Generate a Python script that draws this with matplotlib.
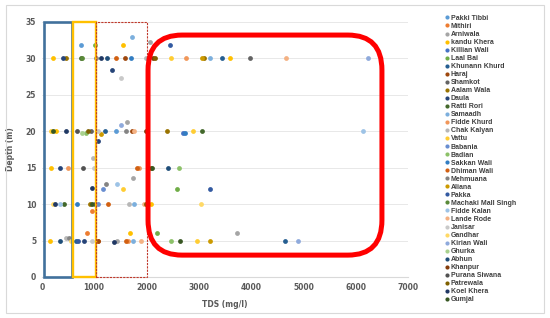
import matplotlib
matplotlib.use('Agg')
import matplotlib.pyplot as plt
from matplotlib.patches import Rectangle, FancyBboxPatch
from matplotlib.lines import Line2D

# Sampling sites (legend order)
sites = ['Pakki Tibbi', 'Mithiri', 'Arniwala', 'kandu Khera', 'Killian Wali', 'Laal Bai',
         'Khunann Khurd', 'Haraj', 'Shamkot', 'Aalam Wala', 'Daula', 'Ratti Rori',
         'Samaadh', 'Fidde Khurd', 'Chak Kalyan', 'Vattu', 'Babania', 'Badian',
         'Sakkan Wali', 'Dhiman Wali', 'Mehmuana', 'Aliana', 'Pakka', 'Machaki Mall Singh',
         'Fidde Kalan', 'Lande Rode', 'Janisar', 'Gandhar', 'Kirian Wali', 'Ghurka',
         'Abhun', 'Khanpur', 'Purana Siwana', 'Patrewala', 'Koel Khera', 'Gumjal']

# Excel 2013 default series colours
colors = ['#5B9BD5', '#ED7D31', '#A5A5A5', '#FFC000', '#4472C4', '#70AD47',
          '#255E91', '#9E480E', '#636363', '#997300', '#264478', '#43682B',
          '#7CAFDD', '#F1975A', '#B7B7B7', '#FFCD33', '#698ED0', '#8CC168',
          '#327DC2', '#D26012', '#848484', '#CC9A00', '#335AA1', '#5A8A39',
          '#9DC3E6', '#F4B183', '#C9C9C9', '#FFD966', '#8FAADC', '#A9D18E',
          '#1F4E79', '#843C0C', '#525252', '#7F6000', '#203864', '#385723']

# TDS (mg/l) per site
tds = [[745, 1410], [950, 1065, 870], [2060, 1620, 1745, 1430, 3735],
       [205, 3595, 1560, 265, 170, 2080, 155, 1680], [2705], [1010, 2575, 2210],
       [3450, 1200, 650, 4655], [1585, 1730, 1080], [3975, 935], [470, 3100, 2400, 920],
       [405, 1335, 1080, 340, 1010, 805], [750, 3060, 425], [3205, 1730, 1760, 1745],
       [2760, 510, 1855, 1655], [1985, 985, 1665, 470], [2460, 170, 2885, 1560, 2960],
       [1170, 1075], [840, 2615, 2460], [1710, 2735, 670], [1410, 1825, 1265, 1615],
       [1045, 1605, 1225, 520], [3065, 1125, 3210], [2450, 3210, 700], [770],
       [6130, 1445, 340], [4675, 1755, 1955, 1890], [1510, 1065, 1000, 965],
       [205, 3035, 555], [6235, 1510, 4900], [775], [1240, 2420, 345], [2120, 1985],
       [680, 795], [2155, 885, 2080, 1985], [1125, 470, 955, 255, 1380], [210, 2110, 965, 2635]]

# Depth (m) per site
depth = [[31.9, 20], [9.0, 5, 6.0], [32.2, 21.2, 13.6, 5, 6.0],
         [30, 30, 31.9, 20, 15, 10, 5, 6.0], [19.7], [31.9, 12.1, 6.0],
         [30, 20, 5, 5], [30, 20, 5], [30, 20], [30, 30, 20, 10],
         [30, 28.4, 18.6, 15, 10, 5], [30, 20, 10], [30, 33.0, 10, 5],
         [30, 15, 15, 5], [30, 16.3, 10, 5.3], [30, 20, 20, 12.1, 5],
         [12.1, 10], [19.7, 15, 5], [30, 19.7, 10], [30, 15, 10, 5],
         [30, 20, 12.8, 5.3], [30, 19.6, 5], [31.9, 12.1, 5], [30],
         [20, 12.8, 10], [30, 20, 10, 5], [27.3, 20, 15, 5],
         [10, 10, 5], [30, 20.9, 5], [19.7], [30, 15, 5], [30, 20],
         [20, 15], [30, 20, 15, 10], [30, 20, 12.2, 10, 4.8], [20, 15, 10, 5]]

x_ticks = [0, 1000, 2000, 3000, 4000, 5000, 6000, 7000]
y_ticks = [0, 5, 10, 15, 20, 25, 30, 35]

fig = plt.figure(figsize=(5.5, 3.18), dpi=100)
ax = fig.add_axes([0.076, 0.129, 0.666, 0.802])

for name, c, xs, ys in zip(sites, colors, tds, depth):
    ax.scatter(xs, ys, s=12, color=c, label=name, zorder=3, linewidths=0)

ax.set_xlim(0, 7000)
ax.set_ylim(0, 35)
ax.set_xticks(x_ticks)
ax.set_yticks(y_ticks)
ax.tick_params(length=0, labelsize=5.5, labelcolor='#595959', pad=4)
for lab in ax.get_xticklabels() + ax.get_yticklabels():
    lab.set_fontweight('bold')
ax.yaxis.grid(True, color='#E4E4E4', lw=0.6)
ax.set_axisbelow(True)
for s in ['top', 'right', 'left']:
    ax.spines[s].set_visible(False)
ax.spines['bottom'].set_color('#D9D9D9')

ax.set_xlabel('TDS (mg/l)', fontsize=5.5, fontweight='bold', color='#595959', labelpad=6)
ax.set_ylabel('Depth (m)', fontsize=5.5, fontweight='bold', color='#595959', labelpad=8)

# highlighted TDS ranges
ax.add_patch(Rectangle((50, 0), 520, 35, fill=False, ec='#41719C', lw=1.9, clip_on=False, zorder=4))
ax.add_patch(Rectangle((605, 0), 440, 35, fill=False, ec='#FFC000', lw=1.7, clip_on=False, zorder=4))
ax.add_patch(Rectangle((1045, 0), 965, 35, fill=False, ec='#C0392B', lw=0.8,
                       ls=(0, (2, 1)), clip_on=False, zorder=5))
ax.add_patch(FancyBboxPatch((2030, 3.0), 4470, 30.2,
                            boxstyle='round,pad=0,rounding_size=650',
                            mutation_aspect=0.0074, fill=False, ec='#FF0000',
                            lw=3.6, clip_on=False, zorder=5))

handles = [Line2D([], [], ls='', marker='o', ms=3, mec='none', mfc=c) for c in colors]
fig.legend(handles, sites, loc='upper left', bbox_to_anchor=(0.803, 0.962),
           frameon=False, handlelength=0.6, handletextpad=0.3, labelspacing=0.15,
           borderaxespad=0, prop={'family': ['Liberation Sans Narrow', 'Liberation Sans'],
                                  'size': 5.0, 'weight': 'bold'},
           labelcolor='#404040')

fig.patches.append(Rectangle((0.011, 0.016), 0.978, 0.968, transform=fig.transFigure,
                             fill=False, ec='#D9D9D9', lw=0.8))

plt.savefig('out.png', dpi=100)
plt.close()
